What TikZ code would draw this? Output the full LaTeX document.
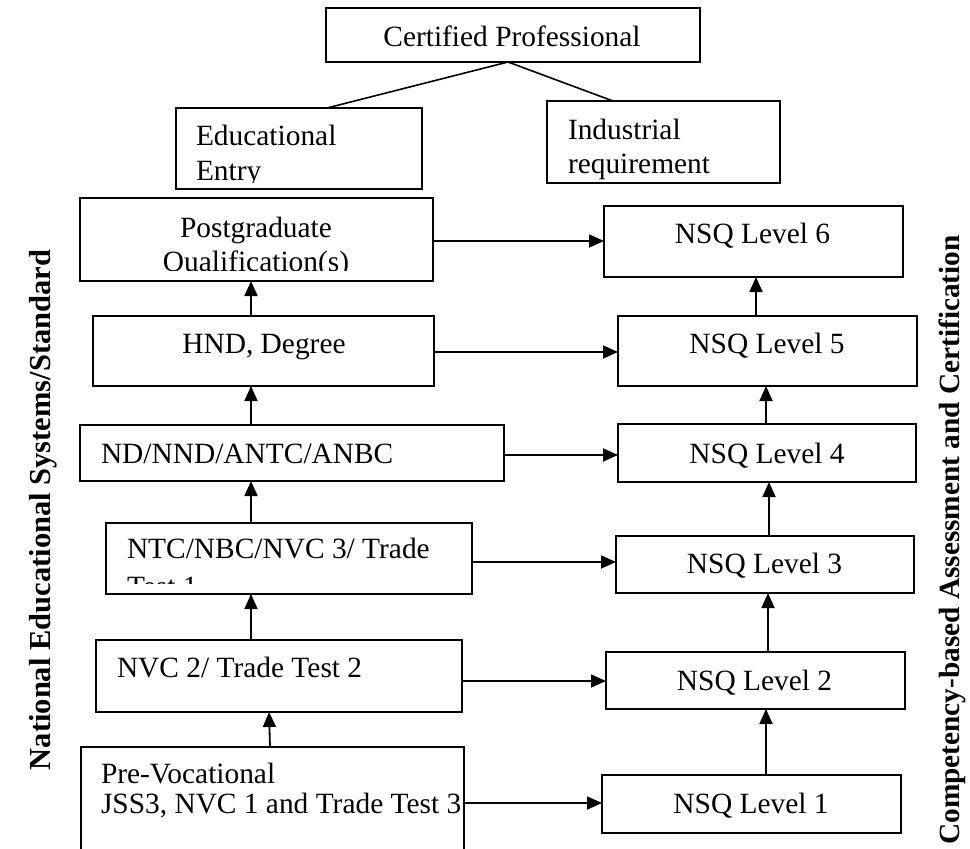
\documentclass[tikz,border=0pt]{standalone}
\usepackage{fontspec}
\setmainfont{Liberation Serif}
\usetikzlibrary{arrows.meta,calc}
\begin{document}
\begin{tikzpicture}[x=1pt,y=-1pt,
  box/.style={draw, line width=1.8pt, inner sep=0pt, outer sep=0pt, rectangle},
  txt/.style={inner sep=0pt, outer sep=0pt, anchor=base, font=\fontsize{29.4}{34}\selectfont},
  ltxt/.style={txt, anchor=base west},
  side/.style={inner sep=0pt, rotate=90, font=\fontsize{30.5}{36}\selectfont\bfseries},
  arr/.style={line width=1.8pt, -{Triangle[length=15pt,width=13pt]}},
  ln/.style={line width=1.6pt}]
\useasboundingbox (0,0) rectangle (970,849);
\clip (0,0) rectangle (970,849);

% ---------- boxes ----------
\node[box, minimum width=374pt, minimum height=54pt] (cert) at (513,35) {};
\node[box, minimum width=246pt, minimum height=81pt] (edu) at (299,148.5) {};
\node[box, minimum width=233pt, minimum height=82pt] (ind) at (663.5,142) {};

\node[box, minimum width=353pt, minimum height=83pt] (pg) at (256.5,239.5) {};
\node[box, minimum width=341pt, minimum height=70pt] (hnd) at (263.5,351) {};
\node[box, minimum width=424pt, minimum height=56pt] (nd) at (292,453) {};
\node[box, minimum width=366pt, minimum height=71pt] (ntc) at (289,558.5) {};
\node[box, minimum width=366pt, minimum height=72pt] (nvc) at (279,676) {};
\node[box, minimum width=383pt, minimum height=153pt] (pre) at (272.5,823.5) {};

\node[box, minimum width=299pt, minimum height=71pt] (n6) at (753.5,241.5) {};
\node[box, minimum width=299pt, minimum height=70pt] (n5) at (767.5,351) {};
\node[box, minimum width=298pt, minimum height=58pt] (n4) at (767,453) {};
\node[box, minimum width=298pt, minimum height=57pt] (n3) at (765,564.5) {};
\node[box, minimum width=299pt, minimum height=57pt] (n2) at (755.5,680.5) {};
\node[box, minimum width=299pt, minimum height=58pt] (n1) at (751.5,804) {};

% ---------- texts ----------
\node[txt] (certt) at (512,46) {Certified Professional};

\begin{scope}
\clip (176,108) rectangle (422,182);
\node[ltxt] (edut1) at (196,145) {Educational};
\node[ltxt] (edut2) at (196,180) {Entry};
\end{scope}

\begin{scope}
\clip (547,101) rectangle (780,181);
\node[ltxt] (indt1) at (568,139) {Industrial};
\node[ltxt] (indt2) at (568,173) {requirement};
\end{scope}

\begin{scope}
\clip (80,198) rectangle (433,270);
\node[txt] (pgt1) at (256,237) {Postgraduate};
\node[txt] (pgt2) at (256,271) {Qualification(s)};
\end{scope}

\node[txt] (hndt) at (264,353) {HND, Degree};
\node[ltxt] (ndt) at (101,463) {ND/NND/ANTC/ANBC};

\begin{scope}
\clip (106,523) rectangle (472,583);
\node[ltxt] (ntct1) at (127,558) {NTC/NBC/NVC 3/ Trade};
\node[ltxt] (ntct2) at (127,596) {Test 1};
\end{scope}

\node[ltxt] (nvct) at (117,677) {NVC 2/ Trade Test 2};
\node[ltxt] (pret1) at (101,783) {Pre-Vocational};
\node[ltxt] (pret2) at (101,813) {JSS3, NVC 1 and Trade Test 3};

\node[txt] (n6t) at (752.5,243) {NSQ Level 6};
\node[txt] (n5t) at (767,353) {NSQ Level 5};
\node[txt] (n4t) at (767,463) {NSQ Level 4};
\node[txt] (n3t) at (764.5,573) {NSQ Level 3};
\node[txt] (n2t) at (754.5,690) {NSQ Level 2};
\node[txt] (n1t) at (751,813) {NSQ Level 1};

% ---------- side labels ----------
\node[side] (llab) at (43,510) {National Educational Systems/Standard};
\node[side, anchor=east, font=\fontsize{29.3}{34}\selectfont\bfseries] (rlab) at (952,235) {Competency-based Assessment and Certification};

% ---------- top connectors ----------
\draw[ln] ($(cert.south)+(-5,0)$) -- ($(edu.north)+(28,0)$);
\draw[ln] ($(cert.south)+(-5,0)$) -- ($(ind.north)+(-50.5,0)$);

% ---------- left column arrows ----------
\coordinate (lx) at (251,0);
\draw[arr] (hnd.north -| lx) -- (pg.south -| lx);
\draw[arr] (nd.north -| lx) -- (hnd.south -| lx);
\draw[arr] (ntc.north -| lx) -- (nd.south -| lx);
\draw[arr] (nvc.north -| lx) -- (ntc.south -| lx);
\draw[arr] ($(pre.north)+(-2.5,0)$) -- ($(nvc.south)+(-10,0)$);

% ---------- right column arrows ----------
\coordinate (ra) at (766,0);
\coordinate (rb) at (768,0);
\coordinate (rc) at (769,0);
\coordinate (rd) at (766,0);
\coordinate (re) at (756,0);
\draw[arr] (n1.north -| ra) -- (n2.south -| ra);
\draw[arr] (n2.north -| rb) -- (n3.south -| rb);
\draw[arr] (n3.north -| rc) -- (n4.south -| rc);
\draw[arr] (n4.north -| rd) -- (n5.south -| rd);
\draw[arr] (n5.north -| re) -- (n6.south -| re);

% ---------- horizontal arrows ----------
\coordinate (h6) at (0,241);
\coordinate (h5) at (0,352);
\coordinate (h4) at (0,455);
\coordinate (h3) at (0,562);
\coordinate (h2) at (0,681);
\coordinate (h1) at (0,803);
\draw[arr] (pg.east |- h6) -- (n6.west |- h6);
\draw[arr] (hnd.east |- h5) -- (n5.west |- h5);
\draw[arr] (nd.east |- h4) -- (n4.west |- h4);
\draw[arr] (ntc.east |- h3) -- (n3.west |- h3);
\draw[arr] (nvc.east |- h2) -- (n2.west |- h2);
\draw[arr] (pre.east |- h1) -- (n1.west |- h1);
\end{tikzpicture}
\end{document}
